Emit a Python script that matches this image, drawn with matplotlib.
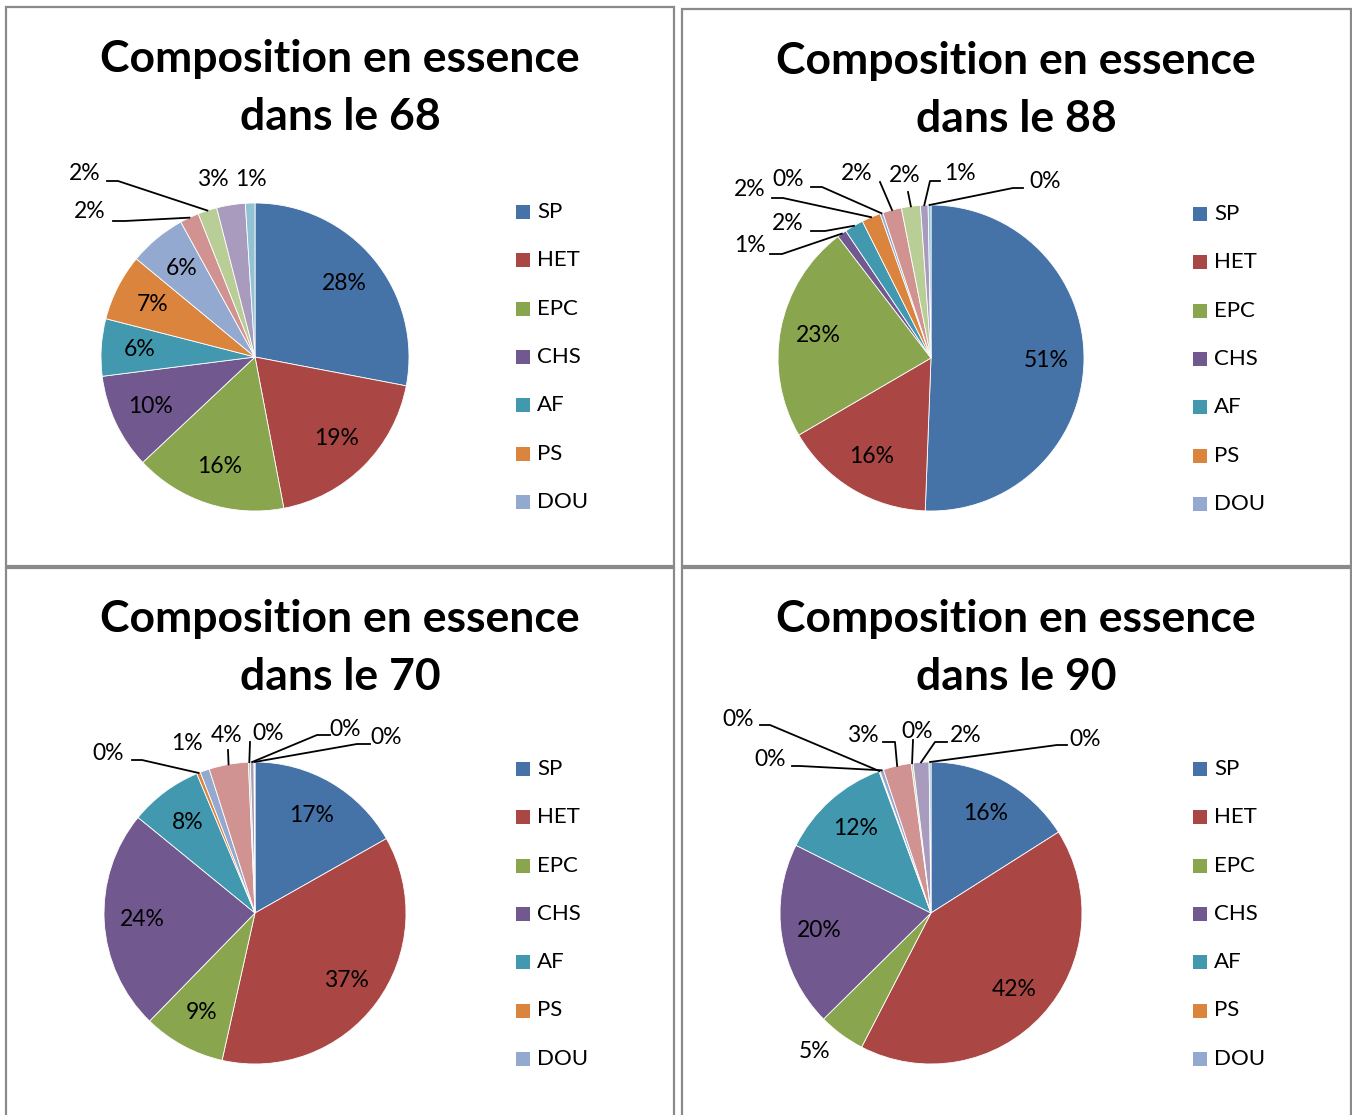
import matplotlib
matplotlib.use("Agg")
import matplotlib.pyplot as plt
import numpy as np
from matplotlib.patches import Rectangle
from matplotlib.lines import Line2D

W, H = 1352, 1115
plt.rcParams["font.family"] = ["Lato", "DejaVu Sans"]

# Species (essences); only the first seven appear in the legend
essences = ["SP", "HET", "EPC", "CHS", "AF", "PS", "DOU",
            "Autre A", "Autre B", "Autre C", "Autre D"]
legend_count = 7
colors = ["#4572A7", "#AA4643", "#89A54E", "#71588F", "#4198AF", "#DB843D",
          "#93A9CF", "#D19392", "#B9CD96", "#A99BBD", "#91C3D5"]

# Share of each species (%) per département
departements = ["68", "88", "70", "90"]
part_68 = [28, 19, 16, 10, 6, 7, 6, 2, 2, 3, 1]
part_88 = [50.6, 16, 23, 1, 2, 2, 0.3, 2, 2, 0.8, 0.3]
part_70 = [16.8, 36.7, 8.8, 23.6, 7.8, 0.4, 1.0, 4.2, 0.2, 0.4, 0.1]
part_90 = [16, 41.6, 5, 19.8, 12, 0.1, 0.4, 3, 0.2, 1.7, 0.2]
parts = [part_68, part_88, part_70, part_90]

# Panel layout (image pixel coordinates, y downward)
panels = [
    dict(box=(6, 7, 674, 566), title=(340, 59), center=(255, 357), r=154,
         leg=(516, 212),
         outside={7: ((90, 212), [(113, 221), (125, 221)]),
                  8: ((85, 173), [(107, 181), (118, 181)]),
                  9: ((213, 180), None),
                  10: ((251, 180), None)}),
    dict(box=(682, 9, 1351, 566), title=(1016, 61), center=(931, 358), r=153,
         leg=(1193, 214),
         outside={3: ((750, 245), [(770, 254), (782, 254)]),
                  4: ((788, 223), [(811, 231), (825, 231)]),
                  5: ((750, 190), [(772, 198), (783, 198)]),
                  6: ((788, 180), [(811, 187), (822, 187)]),
                  7: ((857, 173), [(880, 182)]),
                  8: ((905, 175), [(908, 192)]),
                  9: ((960, 173), [(940, 181), (930, 181)]),
                  10: ((1045, 181), [(1023, 188), (1013, 188)])}),
    dict(box=(6, 568, 674, 1125), title=(340, 619), center=(255, 913), r=151,
         leg=(516, 769),
         outside={5: ((108, 753), [(132, 760), (142, 760)]),
                  6: ((187, 743), None),
                  7: ((227, 735), [(228, 750)]),
                  8: ((268, 733), [(250, 742)]),
                  9: ((345, 729), [(330, 735), (317, 735)]),
                  10: ((386, 737), [(370, 744), (357, 744)])}),
    dict(box=(682, 568, 1351, 1125), title=(1016, 619), center=(931, 913), r=151,
         leg=(1193, 769),
         outside={2: ((815, 1052), None),
                  5: ((738, 719), [(760, 725), (770, 725)]),
                  6: ((770, 759), [(792, 766), (800, 766)]),
                  7: ((863, 735), [(883, 742), (895, 742)]),
                  8: ((917, 731), [(913, 740)]),
                  9: ((966, 735), [(947, 742), (935, 742)]),
                  10: ((1085, 739), [(1067, 745), (1057, 745)])}),
]


def fy(y):
    return H - y


fig = plt.figure(figsize=(W / 100, H / 100), dpi=100)
ax = fig.add_axes([0, 0, 1, 1])

for dep, vals, p in zip(departements, parts, panels):
    x0, y0, x1, y1 = p["box"]
    ax.add_patch(Rectangle((x0, fy(y1)), x1 - x0, y1 - y0, fill=False,
                           edgecolor="#8a8a8a", linewidth=1.6, zorder=1))
    tx, ty = p["title"]
    ax.text(tx, fy(ty), "Composition en essence", ha="center", va="center",
            fontsize=32, fontweight="bold", color="black")
    ax.text(tx, fy(ty + 58), f"dans le {dep}", ha="center", va="center",
            fontsize=32, fontweight="bold", color="black")

    cx, cy = p["center"]
    r = p["r"]
    wedges, _ = ax.pie(vals, colors=colors, startangle=90, counterclock=False,
                       center=(cx, fy(cy)), radius=r,
                       wedgeprops=dict(edgecolor="white", linewidth=0.6))

    total = float(sum(vals))
    cum = 0.0
    for i, v in enumerate(vals):
        mid = (cum + v / 2) / total * 2 * np.pi
        cum += v
        dx, dy = np.sin(mid), np.cos(mid)
        label = f"{v:.0f}%"
        if i in p["outside"]:
            (lx, ly), pts = p["outside"][i]
            ax.text(lx, fy(ly), label, ha="center", va="center", fontsize=16.5)
            if pts is not None:
                xs = [q[0] for q in pts] + [cx + dx * r]
                ys = [fy(q[1]) for q in pts] + [fy(cy) + dy * r]
                ax.add_line(Line2D(xs, ys, color="black", linewidth=1.3))
        else:
            ax.text(cx + dx * r * 0.75, fy(cy) + dy * r * 0.75, label,
                    ha="center", va="center", fontsize=16.5)

    lx, ly = p["leg"]
    for k in range(legend_count):
        yk = ly + 48.3 * k
        ax.add_patch(Rectangle((lx, fy(yk) - 7), 14, 14, facecolor=colors[k],
                               edgecolor="none"))
        ax.text(lx + 21, fy(yk), essences[k], ha="left", va="center",
                fontsize=16)

ax.set_xlim(0, W)
ax.set_ylim(0, H)
ax.set_aspect("auto")
ax.axis("off")

fig.savefig("out.png", dpi=100, facecolor="white")
